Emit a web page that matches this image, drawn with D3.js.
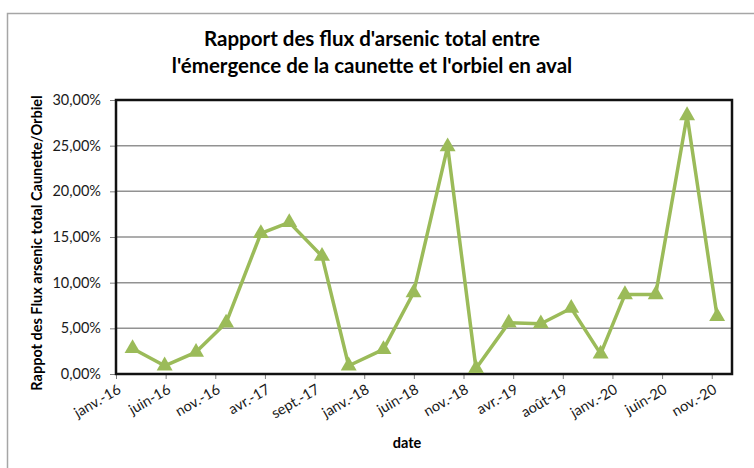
<!DOCTYPE html>
<html>
<head>
<meta charset="utf-8">
<script src="https://cdn.jsdelivr.net/npm/d3@7"></script>
<style>
  body { margin: 0; background: #fff; }
  svg { display: block; font-family: Lato, "Open Sans", sans-serif; }
</style>
</head>
<body>
<svg id="chart" width="754" height="468"></svg>
<script>
// sampling dates and ratio Caunette / Orbiel (%)
const dates = [
    "2016-03-06", "2016-06-09", "2016-09-10", "2016-12-08", "2017-03-21",
    "2017-06-13", "2017-09-18", "2017-12-06", "2018-03-19", "2018-06-16",
    "2018-09-25", "2018-12-18", "2019-03-25", "2019-06-28", "2019-09-26",
    "2019-12-22", "2020-03-03", "2020-06-02", "2020-09-03", "2020-12-01"
];
const ratios = [
    2.8, 0.9, 2.4, 5.6, 15.4,
    16.6, 12.9, 0.9, 2.7, 8.9,
    24.9, 0.6, 5.6, 5.5, 7.2,
    2.2, 8.7, 8.7, 28.3, 6.3
];
const xTickLabels = [
    "janv.-16", "juin-16", "nov.-16", "avr.-17", "sept.-17", "janv.-18", "juin-18",
    "nov.-18", "avr.-19", "août-19", "janv.-20", "juin-20", "nov.-20"
];
const yTicks = [0, 5, 10, 15, 20, 25, 30];

const title = [
    "Rapport des flux d'arsenic total entre",
    "l'émergence de la caunette et l'orbiel en aval"
];

const margin = { top: 100, right: 22, bottom: 94, left: 116 };
const size = { width: 754, height: 468 };

const axisStart = new Date(2016, 0, 17);
const majorUnit = 147; // days between x ticks

const svg = d3.select("#chart");

// outer chart border (only top and left are visible)
svg.append("path")
    .attr("d", "M7.5,468V13.5H754")
    .attr("fill", "none")
    .attr("stroke", "#a6a6a6")
    .attr("stroke-width", 1.5);

svg.append("g")
    .selectAll("text")
    .data(title)
    .enter()
    .append("text")
    .attr("x", 372)
    .attr("y", (d, i) => 46 + i * 27)
    .attr("text-anchor", "middle")
    .style("font-size", "20.5px")
    .style("font-weight", "bold")
    .attr("fill", "#000")
    .text(d => d);

const x = d3.scaleTime()
    .domain([axisStart, d3.timeDay.offset(axisStart, Math.round(12.41 * majorUnit))])
    .range([margin.left, size.width - margin.right]);

const y = d3.scaleLinear()
    .domain([0, 30])
    .range([size.height - margin.bottom, margin.top]);

const tickDates = xTickLabels.map((d, i) => d3.timeDay.offset(axisStart, i * majorUnit));

// gridlines
svg.append("g")
    .selectAll("line")
    .data(yTicks.slice(1))
    .enter()
    .append("line")
    .attr("x1", margin.left)
    .attr("x2", size.width - margin.right)
    .attr("y1", d => y(d))
    .attr("y2", d => y(d))
    .attr("stroke", "#929292")
    .attr("stroke-width", 1.5);

// y axis
const yAxis = svg.append("g")
    .attr("transform", `translate(${margin.left},0)`)
    .call(d3.axisLeft(y)
        .tickValues(yTicks)
        .tickSize(6)
        .tickPadding(9)
        .tickFormat(d => d3.format(".2f")(d).replace(".", ",") + "%"));
yAxis.select(".domain").remove();
yAxis.selectAll("line").attr("stroke", "#7f7f7f");
yAxis.selectAll("text")
    .style("font-size", "14.5px")
    .style("font-family", "Lato, sans-serif")
    .attr("fill", "#1a1a1a");

// x axis
const xAxis = svg.append("g")
    .attr("transform", `translate(0,${size.height - margin.bottom})`)
    .call(d3.axisBottom(x)
        .tickValues(tickDates)
        .tickSize(5)
        .tickFormat((d, i) => xTickLabels[i]));
xAxis.select(".domain").remove();
xAxis.selectAll("line").attr("stroke", "#7f7f7f");
xAxis.selectAll("text")
    .style("font-size", "14.5px")
    .style("font-family", "Lato, sans-serif")
    .attr("fill", "#1a1a1a")
    .attr("text-anchor", "end")
    .attr("dy", "0.35em")
    .attr("transform", "translate(3,14) rotate(-30)")
    .attr("y", 0)
    .attr("x", 0);

// plot frame
svg.append("rect")
    .attr("x", margin.left)
    .attr("y", margin.top)
    .attr("width", size.width - margin.left - margin.right)
    .attr("height", size.height - margin.top - margin.bottom)
    .attr("fill", "none")
    .attr("stroke", "#111")
    .attr("stroke-width", 2.5);

// axis titles
svg.append("text")
    .attr("transform", "translate(42,243) rotate(-90)")
    .attr("text-anchor", "middle")
    .style("font-size", "14.5px")
    .style("font-weight", "bold")
    .text("Rappot des Flux arsenic total Caunette/Orbiel");

svg.append("text")
    .attr("x", 407)
    .attr("y", 448)
    .attr("text-anchor", "middle")
    .style("font-size", "14.5px")
    .style("font-weight", "bold")
    .text("date");

// series
const points = dates.map((d, i) => ({ date: d3.timeParse("%Y-%m-%d")(d), value: ratios[i] }));

const line = d3.line()
    .x(d => x(d.date))
    .y(d => y(d.value));

svg.append("path")
    .datum(points)
    .attr("d", line)
    .attr("fill", "none")
    .attr("stroke", "#9bbb59")
    .attr("stroke-width", 3.5)
    .attr("stroke-linejoin", "round");

svg.append("g")
    .selectAll("path")
    .data(points)
    .enter()
    .append("path")
    .attr("d", d3.symbol().type(d3.symbolTriangle).size(110))
    .attr("transform", d => `translate(${x(d.date)},${y(d.value)})`)
    .attr("fill", "#9bbb59");
</script>
</body>
</html>
